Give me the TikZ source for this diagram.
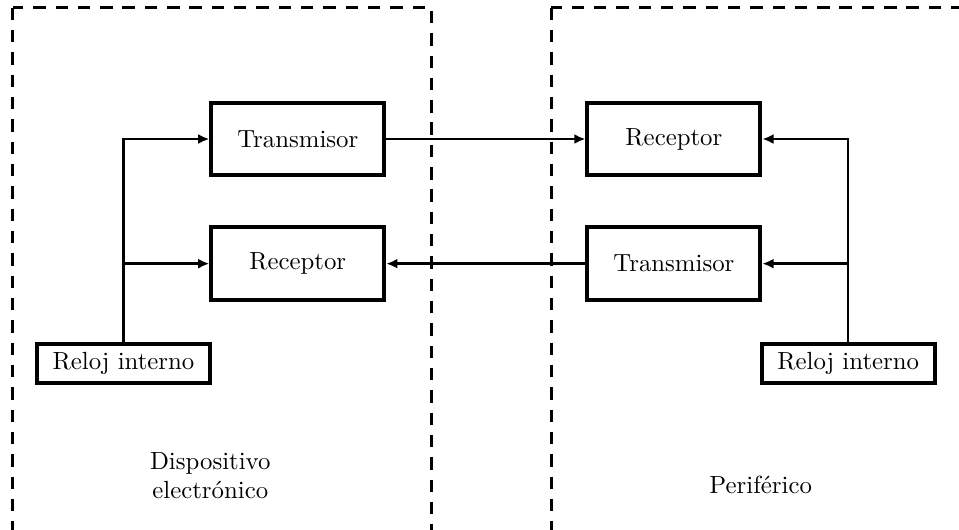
\documentclass[tikz,border=0pt]{standalone}
\usepackage{tikz}
\usetikzlibrary{arrows.meta, positioning}

\begin{document}
\begin{tikzpicture}[
  blk/.style={draw, line width=1.6pt, align=center, fill=white,
              minimum width=2.45cm, minimum height=1.03cm},
  clk/.style={draw, line width=1.6pt, align=center, fill=white,
              minimum width=2.45cm, minimum height=0.55cm},
  frame/.style={line width=1.3pt, dash pattern=on 5pt off 4pt},
  arr/.style={-{Latex[length=4.5pt, width=4pt]}, line width=1pt},
  lbl/.style={align=center},
  node distance=0.68cm
]
\useasboundingbox (0,0) rectangle (13.59,-7.5);
% frames
\draw[frame] (0.18,-0.11) rectangle (6.12,-7.53);
\draw[frame] (7.81,-0.11) rectangle (13.75,-7.53);
% dispositivo
\node[blk] (txA) at (4.22,-1.97) {Transmisor};
\node[blk, below=of txA] (rxA) {Receptor};
\node[clk] (relA) at (1.75,-5.15) {Reloj interno};
\node[lbl] (devA) at (2.98,-6.74) {Dispositivo\\electrónico};
% periferico
\node[blk] (rxB) at (9.55,-1.97) {Receptor};
\node[blk, below=of rxB] (txB) {Transmisor};
\node[clk] (relB) at (12.02,-5.15) {Reloj interno};
\node[lbl] (devB) at (10.78,-6.87) {Periférico};
% enlaces
\draw[arr] (txA) -- (rxB);
\draw[arr] (txB) -- (rxA);
\draw[arr] (relA.north) |- (txA.west);
\draw[arr] (relA.north |- rxA.west) -- (rxA.west);
\draw[arr] (relB.north) |- (rxB.east);
\draw[arr] (relB.north |- txB.east) -- (txB.east);
\end{tikzpicture}
\end{document}
